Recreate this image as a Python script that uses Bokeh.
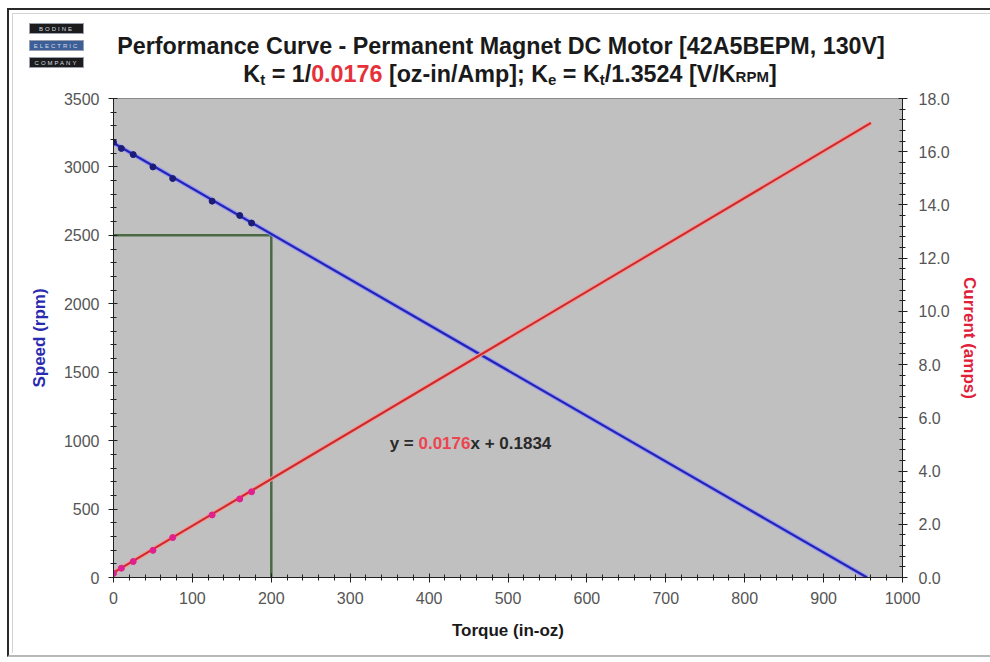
from bokeh.plotting import figure
from bokeh.layouts import column
from bokeh.models import Range1d, LinearAxis, FixedTicker, Label, PrintfTickFormatter, Div
from bokeh.embed import file_html
from bokeh.resources import INLINE

# ---- data ----
torque_meas = [0, 10, 25, 50, 75, 125, 160, 175]
speed_meas = [3180, 3135, 3090, 3000, 2915, 2750, 2645, 2590]
current_meas = [0.15, 0.35, 0.60, 1.02, 1.50, 2.35, 2.95, 3.22]
speed_fit_torque = [0, 955]
speed_fit = [3175, 0]
current_fit_torque = [0, 960]
current_fit = [0.1834, 17.08]
op_torque = [0, 200, 200]
op_speed = [2500, 2500, 0]
x_ticks = list(range(0, 1001, 100))
x_minor = list(range(0, 1001, 20))
speed_ticks = list(range(0, 3501, 500))
speed_minor = list(range(0, 3501, 100))
current_ticks = [0, 2, 4, 6, 8, 10, 12, 14, 16, 18]
current_minor = [i * 0.4 for i in range(46)]

title_line1 = "Performance Curve - Permanent Magnet DC Motor [42A5BEPM, 130V]"
kt_value = "0.0176"
eq_slope = "0.0176"
eq_intercept = "0.1834"

FONT = "Liberation Sans"

# Arial bold advance widths (per 1000 em)
W = {' ': 278, '=': 584, '+': 584, '.': 278, 'x': 556, 'y': 556}


def tw(s, size):
    return sum(W.get(c, 556) for c in s) * size / 1000.0


HEAD = 90
FL, FT, FR, FB = 113, 98, 902, 577   # frame edges on the page

# ---- header (logo + two-line title) ----
dark = "#1a1a1a"
sub = "font-size:15px;vertical-align:-3px;line-height:0"
logo = ""
for top, col, txt in [(23, "#1c1c1c", "BODINE"), (40, "#3d5f98", "ELECTRIC"), (57, "#1c1c1c", "COMPANY")]:
    logo += (f'<div style="position:absolute;left:29px;top:{top}px;width:55px;height:11px;background:{col};'
             f'border:1px solid #9aa0b0;color:#d8dce8;font-size:6px;line-height:11px;text-align:center;'
             f'letter-spacing:2px;font-weight:normal">{txt}</div>')
header_html = (
    f'<div style="position:relative;width:990px;height:{HEAD}px;font-family:\'{FONT}\',Arial,sans-serif;'
    f'font-weight:bold;color:{dark}">'
    f'<div style="position:absolute;left:7px;top:8px;width:1000px;height:649px;border-left:2px solid #2a2a2a;'
    f'border-top:2px solid #2a2a2a;border-bottom:2px solid #b8b8b8;pointer-events:none"></div>'
    f'<div style="position:absolute;left:12px;top:13px;width:1000px;height:640px;border-left:1px solid #d4d4d4;'
    f'border-top:1px solid #d4d4d4;pointer-events:none"></div>'
    + logo +
    f'<div style="position:absolute;left:501px;top:33px;transform:translateX(-50%);white-space:nowrap;'
    f'font-size:23.3px;line-height:26px">{title_line1}</div>'
    f'<div style="position:absolute;left:510px;top:61px;transform:translateX(-50%);white-space:nowrap;'
    f'font-size:23.3px;line-height:26px">K<span style="{sub}">t</span> = 1/<span style="color:#e8303a">{kt_value}</span>'
    f' [oz-in/Amp]; K<span style="{sub}">e</span> = K<span style="{sub}">t</span>/1.3524 [V/K'
    f'<span style="font-size:15px">RPM</span>]</div>'
    '</div>'
)
header = Div(text=header_html, width=990, height=HEAD, margin=0, styles={"overflow": "visible"})

p = figure(width=990, height=662 - HEAD, output_backend="svg", toolbar_location=None,
           x_range=Range1d(0, 1000), y_range=Range1d(0, 3500),
           min_border_left=FL, min_border_right=990 - FR, min_border_top=FT - HEAD,
           min_border_bottom=662 - FB, margin=0,
           background_fill_color="#c0c0c0", border_fill_color=None,
           outline_line_color="#8a8a8a")
p.extra_y_ranges = {"amps": Range1d(0, 18)}
p.grid.visible = False


def style_axis(ax):
    ax.axis_line_color = "#202020"
    ax.major_tick_line_color = "#202020"
    ax.minor_tick_line_color = "#202020"
    ax.major_tick_in = 4
    ax.major_tick_out = 5
    ax.minor_tick_in = 3
    ax.minor_tick_out = 3
    ax.major_label_text_font = FONT
    ax.major_label_text_font_size = "16px"
    ax.major_label_text_color = "#555555"
    ax.axis_label_text_font = FONT
    ax.axis_label_text_font_size = "17px"
    ax.axis_label_text_font_style = "bold"


xa = p.xaxis[0]
style_axis(xa)
xa.ticker = FixedTicker(ticks=x_ticks, minor_ticks=x_minor)
xa.axis_label = "Torque (in-oz)"
xa.axis_label_text_color = "#1a1a1a"
xa.major_label_standoff = 9
xa.axis_label_standoff = 14

ya = p.yaxis[0]
style_axis(ya)
ya.ticker = FixedTicker(ticks=speed_ticks, minor_ticks=speed_minor)
ya.axis_label = "Speed (rpm)"
ya.axis_label_text_color = "#2a2ab0"
ya.major_label_standoff = 9
ya.axis_label_standoff = 12

ra = LinearAxis(y_range_name="amps")
style_axis(ra)
ra.ticker = FixedTicker(ticks=current_ticks, minor_ticks=current_minor)
ra.formatter = PrintfTickFormatter(format="%.1f")
ra.axis_label = "Current (amps)"
ra.axis_label_text_color = "#e0203a"
ra.major_label_standoff = 11
ra.axis_label_standoff = 7
p.add_layout(ra, "right")

# operating point guide lines
p.line(op_torque, op_speed, line_color="#4b6a44", line_width=2.5)

# speed fit line
p.line(speed_fit_torque, speed_fit, line_color="#9090ff", line_width=4.5, line_alpha=0.8)
p.line(speed_fit_torque, speed_fit, line_color="#2424b4", line_width=2.2)
p.scatter(torque_meas, speed_meas, size=6, color="#1c1c78")

# current fit line
p.line(current_fit_torque, current_fit, y_range_name="amps", line_color="#f49a9a", line_width=4.5, line_alpha=0.9)
p.line(current_fit_torque, current_fit, y_range_name="amps", line_color="#cc2a2a", line_width=2.0)
p.scatter(torque_meas, current_meas, y_range_name="amps", size=6, color="#e0208c")

# trendline equation
eq = [("y = ", "#2a2a2a"), (eq_slope, "#ee4450"), ("x + " + eq_intercept, "#2a2a2a")]
xo = 0.0
for text, color in eq:
    lead = len(text) - len(text.lstrip(' '))
    p.add_layout(Label(x=350, y=980, x_offset=xo + tw(' ' * lead, 17), text=text.strip(' '),
                       text_font=FONT, text_font_size="17px", text_font_style="bold",
                       text_color=color, text_baseline="alphabetic", text_align="left"))
    xo += tw(text, 17)

layout = column(header, p, spacing=0, margin=0)
open("out.html", "w").write(file_html(layout, INLINE))
